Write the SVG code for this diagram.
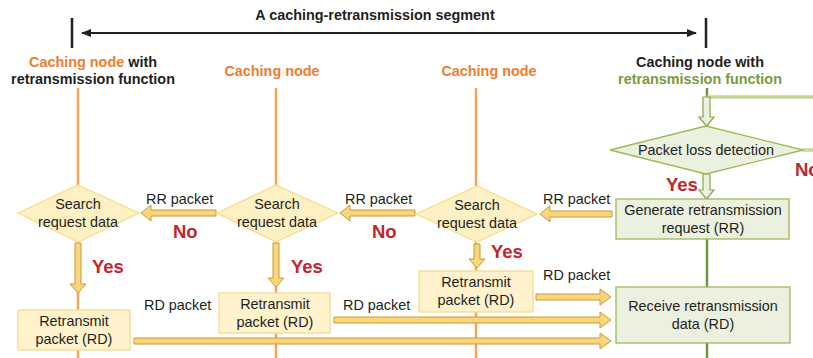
<svg xmlns="http://www.w3.org/2000/svg" width="813" height="358" viewBox="0 0 813 358">
<style>
text{font-family:"Liberation Sans",Arial,sans-serif;fill:#231f20}
.t{font-size:14.4px}
.b{font-size:14.4px;font-weight:bold}
.c{text-anchor:middle}
.or{fill:#ef7d30}
.gr{fill:#7a9a3d}
.red{font-size:18.5px;font-weight:bold;fill:#c1272d}
.ol{stroke:#f7a35c;stroke-width:2.5}
.yd{fill:#fdf0c2;stroke:#f8dc8a;stroke-width:1.3}
.yr{fill:#fff2cc;stroke:#f8dc8a;stroke-width:1.3}
.ya{fill:#f9d57c;stroke:#c99b35;stroke-width:1}
.gd{fill:#ebf1de;stroke:#9bbb59;stroke-width:1.3}
.ga{fill:#ebf1de;stroke:#88a84c;stroke-width:1.2}
</style>
<defs>
<marker id="ah" viewBox="0 0 10 10" refX="9" refY="5" markerWidth="5" markerHeight="5" orient="auto-start-reverse"><path d="M0,1 L10,5 L0,9 Z" fill="#231f20"/></marker>
</defs>
<rect width="813" height="358" fill="#fff"/>
<g id="segment">
<text class="b c" x="375" y="20">A caching-retransmission segment</text>
<line x1="72" y1="18" x2="72" y2="48" stroke="#231f20" stroke-width="2.5"/>
<line x1="706" y1="18" x2="706" y2="48" stroke="#231f20" stroke-width="2.5"/>
<line x1="82" y1="33" x2="696" y2="33" stroke="#231f20" stroke-width="2" marker-start="url(#ah)" marker-end="url(#ah)"/>
</g>
<g id="lifelines">
<line class="ol" x1="78" y1="88" x2="78" y2="358"/>
<line class="ol" x1="276" y1="88" x2="276" y2="358"/>
<line class="ol" x1="476" y1="88" x2="476" y2="358"/>
<line x1="707" y1="88" x2="707" y2="358" stroke="#77933c" stroke-width="2.5"/>
</g>
<g id="headers">
<text class="b c" x="93" y="67"><tspan class="or">Caching node</tspan> with</text>
<text class="b c" x="93" y="84">retransmission function</text>
<text class="b c or" x="272" y="76">Caching node</text>
<text class="b c or" x="489" y="76">Caching node</text>
<text class="b c" x="700" y="67">Caching node with</text>
<text class="b c gr" x="700" y="84">retransmission function</text>
</g>
<g id="connectors">
<line x1="707" y1="97" x2="813" y2="97" stroke="#c4d79b" stroke-width="3.5"/>
<line x1="802" y1="150" x2="813" y2="150" stroke="#c4d79b" stroke-width="3.5"/>
<path class="ga" d="M703,97 H710 V117 H714 L706.5,126 L699,117 H703 Z"/>
<path class="ga" d="M703,174 H710 V190 H714 L706.5,199 L699,190 H703 Z"/>
<path class="ya" d="M612,211 H550 V206 L540,214 L550,222 V217 H612 Z"/>
<path class="ya" d="M415,210 H350 V205 L340,213 L350,221 V216 H415 Z"/>
<path class="ya" d="M216,210 H151 V205 L141,213 L151,221 V216 H216 Z"/>
<path class="ya" d="M75,243 H81 V284 H86 L78,293 L70,284 H75 Z"/>
<path class="ya" d="M273,243 H279 V278 H284 L276,287 L268,278 H273 Z"/>
<path class="ya" d="M474,244 H480 V259 H485 L477,268 L469,259 H474 Z"/>
<path class="ya" d="M536,294 H600 V289 L611,297 L600,305 V300 H536 Z"/>
<path class="ya" d="M334,317 H600 V312 L611,320 L600,328 V323 H334 Z"/>
<path class="ya" d="M134,338 H600 V333 L611,341 L600,349 V344 H134 Z"/>
<text class="t" x="146" y="204">RR packet</text>
<text class="t" x="345" y="204">RR packet</text>
<text class="t" x="543" y="204">RR packet</text>
<text class="t" x="144" y="310">RD packet</text>
<text class="t" x="343" y="310">RD packet</text>
<text class="t" x="543" y="280">RD packet</text>
<text class="red" x="173" y="238">No</text>
<text class="red" x="372" y="238">No</text>
<text class="red" x="795" y="176">No</text>
<text class="red" x="92" y="273">Yes</text>
<text class="red" x="291" y="273">Yes</text>
<text class="red" x="491" y="258">Yes</text>
<text class="red" x="666" y="191">Yes</text>
</g>
<g id="loss-detection">
<path class="gd" d="M706,126 L803,150 L706,174 L610,150 Z"/>
<text class="t c" x="706" y="155">Packet loss detection</text>
</g>
<g id="generate-rr">
<rect class="gd" x="616" y="199" width="173" height="40"/>
<text class="t c" x="703" y="215">Generate retransmission</text>
<text class="t c" x="703" y="233">request (RR)</text>
</g>
<g id="receive-rd">
<rect class="gd" x="616" y="287" width="174" height="56"/>
<text class="t c" x="703" y="311">Receive retransmission</text>
<text class="t c" x="703" y="329">data (RD)</text>
</g>
<g id="search1">
<path class="yd" d="M78,185 L139,213 L78,242 L18,213 Z"/>
<text class="t c" x="78" y="209">Search</text>
<text class="t c" x="78" y="227">request data</text>
</g>
<g id="search2">
<path class="yd" d="M276,185 L338,213 L276,242 L217,213 Z"/>
<text class="t c" x="277" y="209">Search</text>
<text class="t c" x="277" y="227">request data</text>
</g>
<g id="search3">
<path class="yd" d="M477,186 L537,214 L477,242 L416,214 Z"/>
<text class="t c" x="477" y="210">Search</text>
<text class="t c" x="477" y="228">request data</text>
</g>
<g id="retransmit1">
<rect class="yr" x="18" y="310" width="112" height="40"/>
<text class="t c" x="74" y="326">Retransmit</text>
<text class="t c" x="74" y="344">packet (RD)</text>
</g>
<g id="retransmit2">
<rect class="yr" x="219" y="293" width="111" height="40"/>
<text class="t c" x="275" y="309">Retransmit</text>
<text class="t c" x="275" y="327">packet (RD)</text>
</g>
<g id="retransmit3">
<rect class="yr" x="419" y="271" width="114" height="41"/>
<text class="t c" x="476" y="287">Retransmit</text>
<text class="t c" x="476" y="305">packet (RD)</text>
</g>
</svg>
